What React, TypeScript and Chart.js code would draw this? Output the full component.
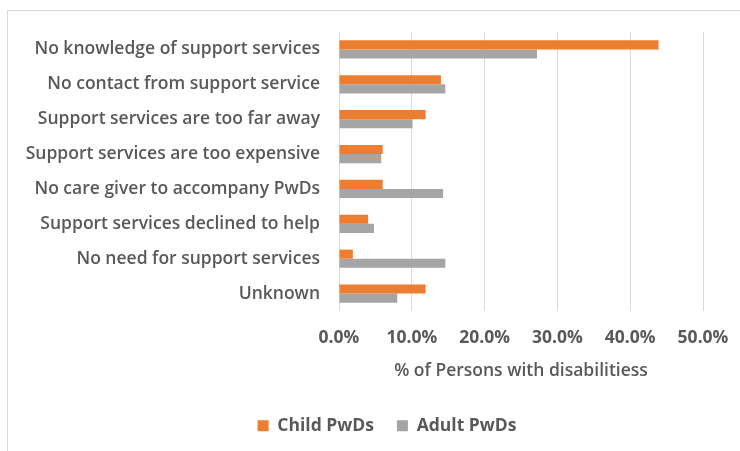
import React, { useEffect, useRef } from "react";
import { Chart, registerables } from "chart.js";

Chart.register(...registerables);

const categories = [
  "No knowledge of support services",
  "No contact from support service",
  "Support services are too far away",
  "Support services are too expensive",
  "No care giver to accompany PwDs",
  "Support services declined to help",
  "No need for support services",
  "Unknown",
];
const childPwDs = [0.439, 0.14, 0.119, 0.06, 0.06, 0.04, 0.019, 0.119];
const adultPwDs = [0.272, 0.146, 0.101, 0.058, 0.143, 0.048, 0.146, 0.08];
const seriesNames = ["Child PwDs", "Adult PwDs"];
const axisTitle = "% of Persons with disabilitiess";

const FONT = "'Open Sans', sans-serif";
const TEXT = "#595959";

const shiftLegend = {
  id: "shiftLegend",
  afterUpdate(chart: any) {
    const lg = chart.legend;
    if (lg) {
      lg.left += 11;
      lg.right += 11;
    }
  },
};

export default function App() {
  const ref = useRef<HTMLCanvasElement | null>(null);
  useEffect(() => {
    let chart: Chart | null = null;
    let cancelled = false;
    const make = () => {
      if (cancelled || !ref.current) return;
      chart = new Chart(ref.current, {
        type: "bar",
        data: {
          labels: categories,
          datasets: [
            { label: seriesNames[0], data: childPwDs, backgroundColor: "#ED7D31" },
            { label: seriesNames[1], data: adultPwDs, backgroundColor: "#A5A5A5" },
          ],
        },
        plugins: [shiftLegend],
        options: {
          indexAxis: "y",
          animation: false,
          responsive: false,
          maintainAspectRatio: false,
          datasets: { bar: { categoryPercentage: 0.52, barPercentage: 1 } },
          layout: { padding: { left: 15, right: 3, top: 32, bottom: 6.5 } },
          scales: {
            x: {
              min: 0,
              max: 0.5,
              afterFit: (s: any) => {
                s.paddingLeft = 0;
                s.paddingRight = 37;
              },
              ticks: {
                stepSize: 0.1,
                color: TEXT,
                font: { family: FONT, size: 17.5, weight: "bold" },
                padding: 16.5,
                callback: (v: any) => (Number(v) * 100).toFixed(1) + "%",
              },
              grid: { color: "#d9d9d9", drawTicks: false, lineWidth: 1 },
              border: { display: false },
              title: {
                display: true,
                text: axisTitle,
                color: TEXT,
                font: { family: FONT, size: 17.5, weight: "600" },
                padding: { top: -4, bottom: 12 },
              },
            },
            y: {
              afterFit: (s: any) => {
                s.width = 324;
              },
              ticks: {
                color: TEXT,
                font: { family: FONT, size: 17.5, weight: "600" },
                padding: 19,
              },
              grid: { display: false, drawTicks: false },
              border: { display: false },
            },
          },
          plugins: {
            legend: {
              position: "bottom",
              labels: {
                boxWidth: 11,
                boxHeight: 11,
                padding: 23,
                color: TEXT,
                font: { family: FONT, size: 17.5, weight: "bold" },
              },
            },
            tooltip: { enabled: false },
          },
        } as any,
      });
    };
    const fonts = (document as any).fonts;
    if (fonts && fonts.load) {
      Promise.all([
        fonts.load("600 17.5px 'Open Sans'"),
        fonts.load("bold 17.5px 'Open Sans'"),
      ]).then(make, make);
    } else {
      make();
    }
    return () => {
      cancelled = true;
      if (chart) chart.destroy();
    };
  }, []);
  return (
    <div style={{ position: "fixed", left: 0, top: 0, width: 740, height: 451, overflow: "hidden", background: "#fff" }}>
      <div
        style={{
          position: "absolute",
          left: 7,
          top: 10,
          width: 760,
          height: 460,
          border: "1px solid #d9d9d9",
          boxSizing: "border-box",
        }}
      />
      <canvas ref={ref} width={740} height={451} style={{ position: "absolute", left: 0, top: 0 }} />
    </div>
  );
}
